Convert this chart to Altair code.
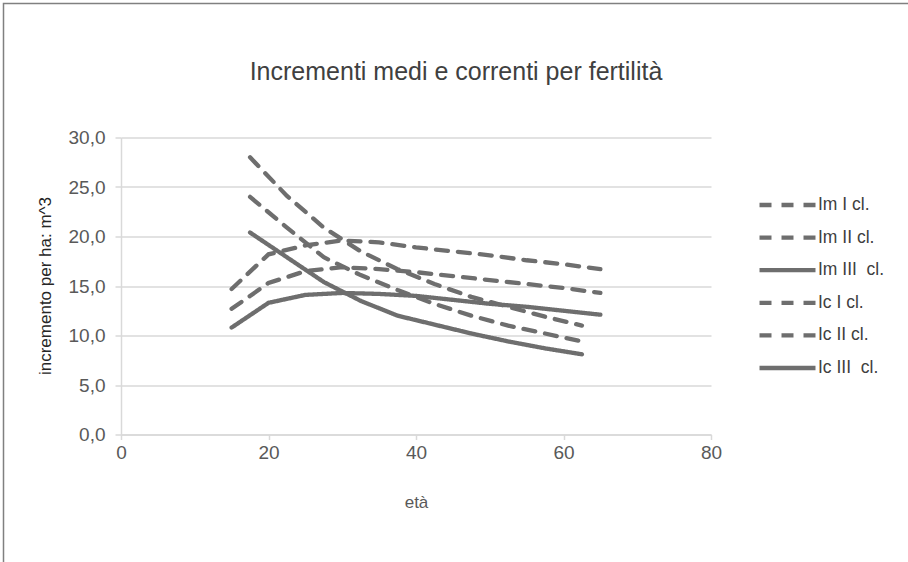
import altair as alt
import pandas as pd

# Età (anni) delle osservazioni
eta_medi = [15, 20, 25, 30, 35, 40, 45, 50, 55, 60, 65]
eta_correnti = [17.5, 22.5, 27.5, 32.5, 37.5, 42.5, 47.5, 52.5, 57.5, 62.5]

# Incrementi medi (m^3/ha) per classe di fertilità
im_i = [14.7, 18.2, 19.1, 19.6, 19.4, 18.9, 18.5, 18.1, 17.6, 17.2, 16.7]
im_ii = [12.7, 15.3, 16.5, 16.9, 16.7, 16.4, 16.0, 15.6, 15.2, 14.8, 14.3]
im_iii = [10.8, 13.3, 14.1, 14.3, 14.2, 14.0, 13.6, 13.2, 12.9, 12.5, 12.1]

# Incrementi correnti (m^3/ha) per classe di fertilità
ic_i = [28.0, 24.1, 20.9, 18.5, 16.7, 15.2, 13.9, 12.9, 11.9, 11.0]
ic_ii = [24.0, 20.9, 17.9, 16.1, 14.6, 13.2, 12.0, 11.0, 10.2, 9.4]
ic_iii = [20.4, 17.9, 15.4, 13.5, 12.0, 11.1, 10.2, 9.4, 8.7, 8.1]

serie = ["Im I cl.", "Im II cl.", "Im III \u00a0cl.", "Ic I cl.", "Ic II cl.", "Ic III \u00a0cl."]
tratti = [[12, 10], [12, 10], [1, 0], [12, 10], [12, 10], [1, 0]]

righe = []
for nome, xs, ys in zip(
    serie,
    [eta_medi] * 3 + [eta_correnti] * 3,
    [im_i, im_ii, im_iii, ic_i, ic_ii, ic_iii],
):
    for x, y in zip(xs, ys):
        righe.append({"serie": nome, "eta": x, "incremento": y})
df = pd.DataFrame(righe)

TESTO = "#595959"
LINEA = "#6e6e6e"
GRIGLIA = "#d9d9d9"
FONT = "Liberation Sans"

linee = alt.Chart(df).mark_line(strokeWidth=4.3, strokeCap="round", color=LINEA).encode(
    x=alt.X(
        "eta:Q",
        scale=alt.Scale(domain=[0, 80], nice=False),
        axis=alt.Axis(
            values=[0, 20, 40, 60, 80],
            title="età",
            grid=False,
            domainColor=GRIGLIA,
            domainWidth=1.5,
            tickColor=GRIGLIA,
            tickWidth=1.5,
            tickSize=5,
            labelFlush=False,
            labelFontSize=19,
            labelColor=TESTO,
            labelPadding=4,
            titleFontSize=17,
            titleFontWeight="normal",
            titleColor=TESTO,
            titleY=68,
            titleBaseline="middle",
        ),
    ),
    y=alt.Y(
        "incremento:Q",
        scale=alt.Scale(domain=[0, 30], nice=False),
        axis=alt.Axis(
            values=[0, 5, 10, 15, 20, 25, 30],
            labelExpr="replace(format(datum.value, '.1f'), '.', ',')",
            title="incremento per ha: m^3",
            gridColor=GRIGLIA,
            gridWidth=1.5,
            domainColor=GRIGLIA,
            domainWidth=1.5,
            tickColor=GRIGLIA,
            tickWidth=1.5,
            tickSize=6,
            labelFontSize=19,
            labelColor=TESTO,
            labelPadding=10,
            titleFontSize=17,
            titleFontWeight="normal",
            titleColor="#262626",
            titleX=-76,
            titleY=148,
            titleAlign="center",
            titleBaseline="middle",
        ),
    ),
    strokeDash=alt.StrokeDash(
        "serie:N",
        scale=alt.Scale(domain=serie, range=tratti),
        legend=alt.Legend(
            title=None,
            orient="none",
            legendX=636,
            legendY=57.5,
            padding=0,
            symbolType="stroke",
            symbolSize=56 * 56,
            symbolStrokeWidth=4.3,
            symbolStrokeColor=LINEA,
            clipHeight=20,
            rowPadding=12.6,
            labelFontSize=17.5,
            labelColor="#404040",
            labelOffset=0,
        ),
    ),
)

# cornice grigia dell'area del grafico
cornice = alt.Chart(pd.DataFrame({"k": [0]})).mark_rect(
    fill=None, stroke="#808080", strokeWidth=1.5
).encode(
    x=alt.value(-117.5), y=alt.value(-134), x2=alt.value(1000), y2=alt.value(600)
)

chart = (
    alt.layer(cornice, linee)
    .properties(
        width=590,
        height=297,
        autosize=alt.AutoSizeParams(type="none"),
        padding={"left": 121, "top": 137.5, "right": 197, "bottom": 127.5},
        background="white",
        title=alt.TitleParams(
            "Incrementi medi e correnti per fertilità",
            fontSize=25,
            fontWeight="normal",
            color="#404040",
            anchor="middle",
            frame="group",
            dx=40,
            baseline="alphabetic",
            offset=0,
            dy=102,
        ),
    )
    .configure(font=FONT)
    .configure_view(stroke=None)
)

chart.save("out.html", embed_options={"renderer": "svg", "actions": False})
